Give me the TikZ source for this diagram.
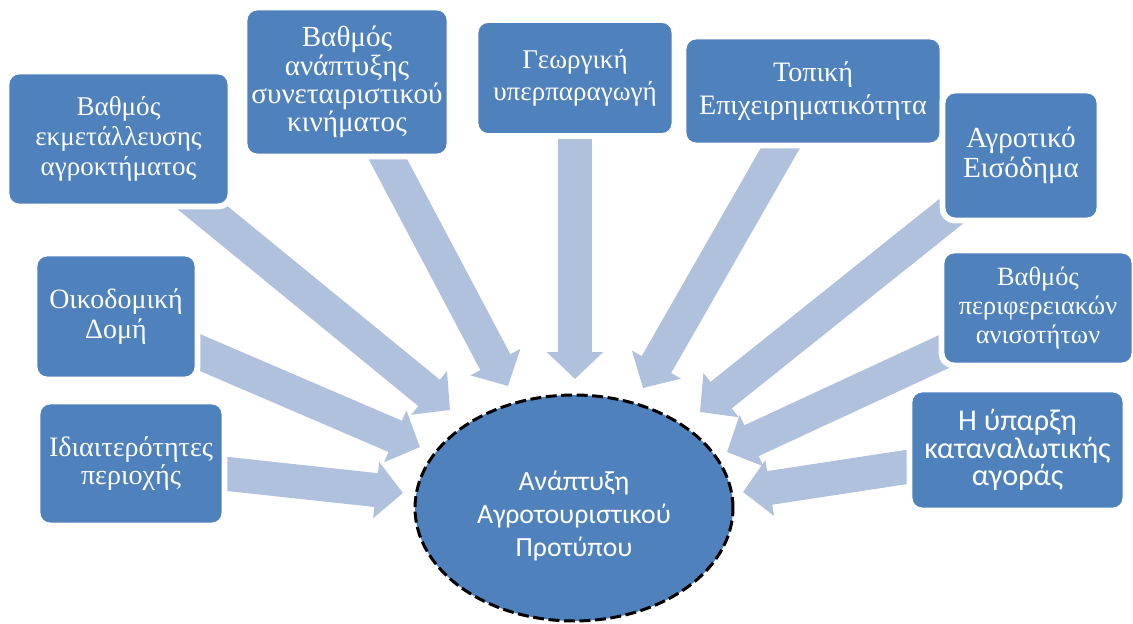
\documentclass[tikz,border=0pt]{standalone}
\usepackage{fontspec}
\setmainfont{Liberation Serif}
\newfontfamily\calibrifont{Carlito}
\usetikzlibrary{shapes.geometric,arrows.meta,backgrounds}
\definecolor{boxblue}{RGB}{79,129,189}
\definecolor{arrowblue}{RGB}{176,193,221}
\newcommand{\boxfont}[2]{\fontsize{#1}{#2}\selectfont}
\tikzset{
  factor/.style={rectangle, rounded corners=0.2cm, fill=boxblue, draw=white,
    line width=0.5pt, text=white, align=center, inner sep=0pt,
    font=\boxfont{14}{17},
    preaction={draw=white, line width=0.22cm}},
  influence/.style={draw=arrowblue, line width=0.68cm,
    -{Triangle[width=1.1cm,length=0.54cm]}},
}
\begin{document}
\begin{tikzpicture}[x=0.02cm, y=-0.02cm]
  \useasboundingbox (0,0) rectangle (1133,624);
  % factors round the centre
  \node[factor, minimum width=4.38cm, minimum height=2.6cm, font=\boxfont{15.4}{17}] (exploit) at (118.5,139) {Βαθμός\\εκμετάλλευσης\\αγροκτήματος};
  \node[factor, minimum width=4.0cm, minimum height=2.88cm, font=\boxfont{16.6}{16}] (coop) at (347,82) {Βαθμός\\ανάπτυξης\\συνεταιριστικού\\κινήματος};
  \node[factor, minimum width=3.88cm, minimum height=2.22cm, font=\boxfont{15.4}{18}] (surplus) at (575,78) {Γεωργική\\υπερπαραγωγή};
  \node[factor, minimum width=5.08cm, minimum height=2.08cm, font=\boxfont{16}{18.5}] (business) at (813,91) {Τοπική\\Επιχειρηματικότητα};
  \node[factor, minimum width=3.04cm, minimum height=2.5cm, font=\boxfont{16.6}{17}] (income) at (1021,155.5) {Αγροτικό\\Εισόδημα};
  \node[factor, minimum width=3.76cm, minimum height=2.2cm, font=\boxfont{15}{16.6}] (disparity) at (1038,308) {Βαθμός\\περιφερειακών\\ανισοτήτων};
  \node[factor, minimum width=4.22cm, minimum height=2.32cm, font=\calibrifont\boxfont{17.2}{15.6}] (market) at (1017.5,450) {Η ύπαρξη\\καταναλωτικής\\αγοράς};
  \node[factor, minimum width=3.16cm, minimum height=2.42cm, font=\boxfont{15.9}{17}] (building) at (116,316.5) {Οικοδομική\\Δομή};
  \node[factor, minimum width=3.64cm, minimum height=2.38cm, font=\boxfont{16}{16}] (area) at (131,463.5) {Ιδιαιτερότητες\\περιοχής};
  % the model in the middle
  \node[ellipse, minimum width=6.36cm, minimum height=4.52cm, inner sep=0pt,
    fill=boxblue, draw=black, line width=0.06cm, dash pattern=on 0.22cm off 0.09cm,
    preaction={draw=white, line width=0.1cm}, text=white, align=center,
    font=\calibrifont\boxfont{15.8}{18.7}] (model) at (574,508)
    {\rule{0pt}{0.7cm}Ανάπτυξη\\Αγροτουριστικού\\Προτύπου};
  % arrow tips
  \coordinate (t1) at (450,410);
  \coordinate (t2) at (508,386);
  \coordinate (t3) at (575,379);
  \coordinate (t4) at (643,388);
  \coordinate (t5) at (700,412);
  \coordinate (t6) at (727,452);
  \coordinate (t7) at (743,492);
  \coordinate (t8) at (420,447);
  \coordinate (t9) at (403,493);
  \begin{scope}[on background layer]
    \foreach \from/\to in {exploit/t1, coop/t2, surplus/t3, business/t4, income/t5,
      disparity/t6, market/t7, building/t8, area/t9}
      \draw[influence] (\from.center) -- (\to);
  \end{scope}
\end{tikzpicture}
\end{document}
